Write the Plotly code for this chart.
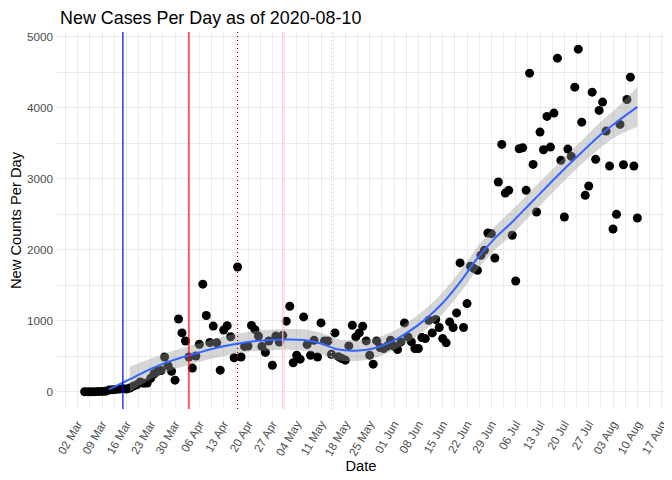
import pandas as pd
import plotly.graph_objects as go

# daily new cases, 2020-03-04 .. 2020-08-10
first_day = "2020-03-04"
new_cases = [
    1, 1, 2, 3, 4, 6, 8, 25, 30, 35, 40, 45, 40, 55, 80, 100, 140, 120, 125, 190,
    255, 290, 300, 490, 370, 290, 165, 1025, 830, 715, 490, 335, 505, 670, 1515, 1075,
    695, 925, 690, 305, 870, 930, 775, 480, 1757, 490, 640, 645, 935, 875, 785, 640,
    555, 715, 375, 785, 700, 795, 995, 1205, 410, 515, 460, 1055, 665, 515, 725, 490,
    970, 715, 715, 530, 830, 495, 470, 446, 647, 937, 773, 830, 923, 717, 516, 390,
    717, 624, 610, 642, 727, 642, 596, 703, 970, 773, 703, 610, 610, 764, 750, 1008,
    830, 1018, 905, 750, 690, 984, 905, 1111, 1814, 905, 1242, 1767, 1734, 1710, 1921, 1992,
    2235, 2226, 1884, 2952, 3482, 2797, 2835, 2203, 1560, 3421, 3435, 2835, 4484, 3200, 2530, 3655,
    3407, 3875, 3444, 3922, 4695, 3257, 2460, 3416, 3313, 4287, 4822, 3795, 2765, 2896, 4217, 3271,
    3960, 4077, 3669, 3177, 2291, 2498, 3763, 3196, 4114, 4428, 3177, 2446,
]
dates = pd.date_range(first_day, periods=len(new_cases), freq="D")

# smoothed trend
smooth_dates = [
    "2020-03-11", "2020-03-15", "2020-03-17", "2020-03-22", "2020-03-27", "2020-04-01",
    "2020-04-06", "2020-04-11", "2020-04-16", "2020-04-21", "2020-04-26", "2020-05-01",
    "2020-05-06", "2020-05-11", "2020-05-16", "2020-05-21", "2020-05-26", "2020-05-31",
    "2020-06-05", "2020-06-10", "2020-06-15", "2020-06-20", "2020-06-25", "2020-06-30",
    "2020-07-05", "2020-07-10", "2020-07-15", "2020-07-20", "2020-07-25", "2020-07-30",
    "2020-08-04", "2020-08-10",
]
smooth_vals = [
    35, 130, 178, 300, 405, 485, 555, 620, 670, 710, 728, 738,
    730, 680, 595, 580, 610, 700, 840, 1020, 1250, 1545, 1880, 2160,
    2390, 2640, 2890, 3135, 3370, 3600, 3795, 4010,
]
# confidence band starts at 2020-03-17
band_lo = [
    0, 150, 270, 355, 425, 485, 530, 570, 583, 593,
    580, 530, 445, 435, 470, 565, 700, 875, 1100, 1390, 1720, 1995,
    2220, 2470, 2725, 2970, 3205, 3420, 3595, 3730,
]
band_hi = [
    360, 450, 540, 615, 685, 755, 810, 850, 873, 883,
    880, 830, 745, 725, 750, 835, 980, 1165, 1400, 1700, 2040, 2325,
    2560, 2810, 3055, 3300, 3535, 3780, 3995, 4290,
]
band_dates = smooth_dates[2:]

# policy dates
event_dates = ["2020-03-15", "2020-04-03", "2020-04-17", "2020-04-30", "2020-05-14"]
event_colors = ["blue", "red", "darkred", "pink", "pink"]
event_dash = ["solid", "solid", "1px,3px", "solid", "1px,3px"]

fig = go.Figure()

fig.add_trace(go.Scatter(
    x=dates, y=new_cases, mode="markers",
    marker=dict(color="black", size=9, line=dict(width=0)),
    showlegend=False,
))
fig.add_trace(go.Scatter(
    x=band_dates, y=band_lo, mode="lines",
    line=dict(width=0, shape="spline"), showlegend=False, hoverinfo="skip",
))
fig.add_trace(go.Scatter(
    x=band_dates, y=band_hi, mode="lines", fill="tonexty",
    fillcolor="rgba(153,153,153,0.4)",
    line=dict(width=0, shape="spline"), showlegend=False, hoverinfo="skip",
))
fig.add_trace(go.Scatter(
    x=smooth_dates, y=smooth_vals, mode="lines",
    line=dict(color="#3366FF", width=2, shape="spline"),
    showlegend=False,
))

for d, c, dash in zip(event_dates, event_colors, event_dash):
    fig.add_shape(type="line", x0=d, x1=d, y0=0, y1=1, yref="paper",
                  line=dict(color=c, width=1.2, dash=dash), layer="above")

grid = "#EBEBEB"
tick_font = dict(family="Liberation Sans, Arial", size=11.7, color="#4D4D4D")
title_font = dict(family="Liberation Sans, Arial", size=14.7, color="black")
week = 7 * 24 * 3600 * 1000

x_start = pd.Timestamp(first_day) - pd.Timedelta(days=7.95)
x_end = dates[-1] + pd.Timedelta(days=7.95)

# page body adds an 8px margin, so the figure is 8px smaller each way
fig.update_layout(
    width=664, height=472,
    margin=dict(l=49, r=7, t=24, b=71),
    plot_bgcolor="white", paper_bgcolor="white",
    font=dict(family="Liberation Sans, Arial"),
    title=dict(text="New Cases Per Day as of 2020-08-10",
               font=dict(family="Liberation Sans, Arial", size=17.9, color="black"),
               x=0.005, xref="paper", xanchor="left",
               y=1 - 10 / 472, yref="container", yanchor="middle",
               automargin=False),
    xaxis=dict(
        type="date", range=[x_start, x_end], automargin=False,
        tick0="2020-03-02", dtick=week, tickformat="%d %b", tickangle=-60,
        ticklabelstandoff=5,
        tickfont=tick_font, ticks="", showline=False, zeroline=False,
        showgrid=True, gridcolor=grid, gridwidth=1.1,
        minor=dict(tick0="2020-02-27 12:00", dtick=week, showgrid=True,
                   gridcolor=grid, gridwidth=0.55, ticks=""),
        title=dict(text="Date", font=title_font, standoff=1),
    ),
    yaxis=dict(
        range=[-241, 5063], tickvals=[0, 1000, 2000, 3000, 4000, 5000],
        automargin=False, ticklabelstandoff=3,
        tickfont=tick_font, ticks="", showline=False, zeroline=False,
        showgrid=True, gridcolor=grid, gridwidth=1.1,
        minor=dict(tickvals=[500, 1500, 2500, 3500, 4500], showgrid=True,
                   gridcolor=grid, gridwidth=0.55, ticks=""),
        title=dict(text="New Counts Per Day", font=title_font, standoff=6),
    ),
)

fig.write_html("out.html")
